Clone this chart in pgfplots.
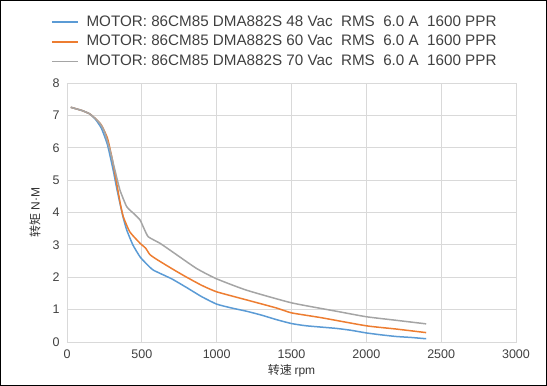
\documentclass[border=0pt]{standalone}
\usepackage{pgfplots}
\pgfplotsset{compat=1.18}
\usepackage{fontspec}
\setmainfont{Liberation Sans}
\newfontfamily\cjk{Noto Sans CJK SC}
\definecolor{sblue}{HTML}{5B9BD5}
\definecolor{sorange}{HTML}{ED7D31}
\definecolor{sgray}{HTML}{A5A5A5}
\definecolor{gridc}{HTML}{D9D9D9}
\begin{document}
\begin{tikzpicture}[x=1pt,y=1pt]
\path[use as bounding box] (0,0) rectangle (547,386);
\draw[black,line width=1.2pt] (0.6,0.6) rectangle (546.4,385.4);
\begin{axis}[
  at={(67pt,44pt)}, anchor=south west,
  scale only axis, width=449pt, height=259pt,
  xmin=0, xmax=3000, ymin=0, ymax=8,
  xtick={0,500,...,3000}, ytick={0,1,...,8},
  grid=major, grid style={gridc, line width=0.8pt},
  axis line style={gridc, line width=0.8pt},
  major tick length=0pt,
  tick label style={font=\fontsize{12.5}{14}\selectfont, text=black!75},
  /pgf/number format/assume math mode=true,
  /pgf/number format/1000 sep={},
  xticklabel style={yshift=-4pt},
  yticklabel style={xshift=-4pt},
  xlabel={\cjk 转速 \rmfamily rpm},
  ylabel={\cjk 转矩 \rmfamily N·M},
  xlabel style={at={(axis description cs:0.5,-0.112)}, anchor=center, font=\fontsize{12}{14}\selectfont, text=black!80},
  ylabel style={at={(axis description cs:-0.071,0.5)}, anchor=center, font=\fontsize{12}{14}\selectfont, text=black!80},
  legend style={at={(axis description cs:-0.036,1.2625)}, anchor=north west, draw=none, fill=none,
    font=\fontsize{15.2}{16}\selectfont, text=black!75, row sep=5.7pt, inner sep=0pt,
    nodes={inner sep=0pt, text height=11pt, text depth=3pt}},
  legend cell align=left,
  legend image code/.code={\draw[#1, line width=1.5pt] (0pt,0pt) -- (26pt,0pt); \path (34pt,0pt);},
  every axis plot/.append style={line width=1.5pt, line join=round},
]
\addplot[sblue, smooth, tension=0.3] coordinates {
(25,7.25)(100,7.15)(150,7.05)(190,6.88)(230,6.6)(270,6.1)(309,5.3)(330,4.8)(354,4.28)(375,3.85)(399,3.46)(440,3.0)(488,2.63)(530,2.42)(577,2.22)(700,1.95)(800,1.68)(900,1.4)(1000,1.17)(1100,1.05)(1200,0.95)(1300,0.83)(1400,0.69)(1500,0.57)(1600,0.5)(1800,0.42)(1900,0.36)(2000,0.28)(2100,0.22)(2200,0.17)(2300,0.14)(2400,0.1)
};
\addlegendentry{MOTOR: 86CM85 DMA882S 48 Vac\ \ RMS\ \ 6.0 A\ \ 1600 PPR}
\addplot[sorange, smooth, tension=0.3] coordinates {
(25,7.25)(100,7.15)(150,7.05)(190,6.9)(230,6.7)(270,6.3)(300,5.7)(332,4.9)(355,4.3)(376,3.87)(420,3.4)(488,3.05)(525,2.9)(554,2.7)(600,2.55)(710,2.24)(800,2.0)(900,1.75)(1000,1.55)(1200,1.3)(1400,1.05)(1500,0.9)(1700,0.75)(2000,0.5)(2200,0.4)(2400,0.29)
};
\addlegendentry{MOTOR: 86CM85 DMA882S 60 Vac\ \ RMS\ \ 6.0 A\ \ 1600 PPR}
\addplot[sgray, smooth, tension=0.3] coordinates {
(25,7.25)(100,7.15)(150,7.05)(190,6.9)(220,6.75)(250,6.5)(287,5.93)(320,5.31)(354,4.69)(399,4.18)(450,3.95)(488,3.77)(515,3.5)(543,3.25)(621,3.05)(700,2.8)(866,2.27)(1000,1.95)(1200,1.6)(1500,1.21)(1800,0.95)(2000,0.78)(2200,0.67)(2400,0.56)
};
\addlegendentry{MOTOR: 86CM85 DMA882S 70 Vac\ \ RMS\ \ 6.0 A\ \ 1600 PPR}
\end{axis}
\end{tikzpicture}
\end{document}
